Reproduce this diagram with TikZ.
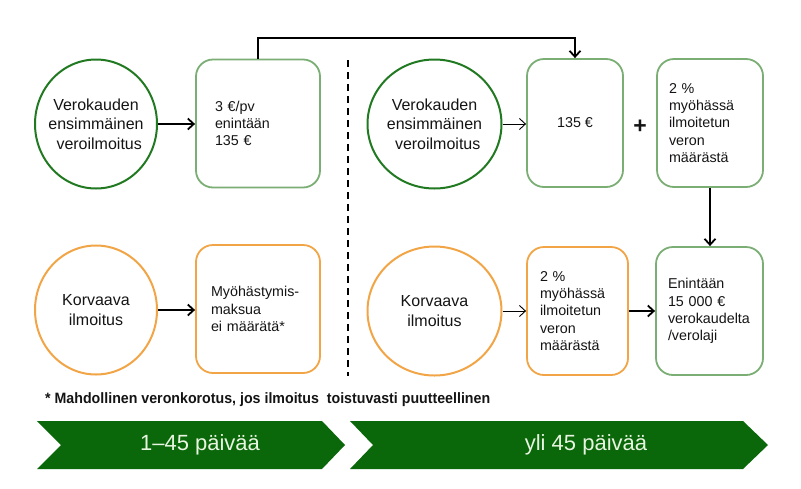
\documentclass[tikz,border=0pt]{standalone}
\usepackage{fontspec}
\usepackage{graphicx}
\setmainfont{Liberation Sans}
\usetikzlibrary{arrows.meta,shapes.geometric}
\definecolor{dkgreen}{HTML}{217A21}
\definecolor{ltgreen}{HTML}{7BAE74}
\definecolor{orng}{HTML}{F2A546}
\definecolor{chev}{HTML}{0A670A}
\definecolor{chevtxt}{HTML}{E8F5E0}
\definecolor{txt}{HTML}{141414}
\begin{document}
\begin{tikzpicture}[x=1pt,y=-1pt,
  circ/.style={ellipse, draw, line width=2pt, inner sep=0pt},
  circtxt/.style={font=\fontsize{16}{19.5}\selectfont, align=center, text=txt, inner sep=0pt},
  box/.style={draw, line width=1.8pt, rounded corners=17pt, font=\fontsize{14.3}{17.3}\selectfont, text=txt, minimum height=128pt},
  thickarr/.style={line width=1.8pt, -{Straight Barb[length=6pt,width=11pt]}},
  thinarr/.style={line width=0.9pt, -{Straight Barb[length=6pt,width=11pt]}},
  chevshape/.style={fill=chev, draw=none},
  chevlabel/.style={font=\fontsize{22}{22}\selectfont, text=chevtxt}
]
\useasboundingbox (0,0) rectangle (801,488);

% top row
\node[circ, draw=dkgreen, minimum width=122pt, minimum height=129pt] (c1) at (96,124) {};
\node[circtxt] (c1t) at (c1) {Verokauden\\ensimmäinen\\\hspace*{0.4em}veroilmoitus};
\node[box, draw=ltgreen, text width=86pt, inner xsep=19pt, align=left] (b1) at (258,123.5) {3 €/pv\\enintään\\135 €};

\node[circ, draw=dkgreen, minimum width=134pt, minimum height=129pt] (c2) at (434.5,124) {};
\node[circtxt] (c2t) at (c2) {Verokauden\\ensimmäinen\\\hspace*{0.4em}veroilmoitus};
\node[box, draw=ltgreen, minimum width=96pt, align=center] (b2) at (575,123) {135 €};
\node[font=\fontsize{23}{23}\bfseries, text=txt] (plus) at (640,127) {+};
\node[box, draw=ltgreen, text width=82pt, inner xsep=12pt, align=left] (b3) at (710,123) {2 \%\\myöhässä\\ilmoitetun\\veron\\määrästä};

% bottom row
\node[circ, draw=orng, minimum width=122pt, minimum height=129pt] (c3) at (96,310) {};
\node[circtxt] (c3t) at (c3) {Korvaava\\ilmoitus};
\node[box, draw=orng, text width=94pt, inner xsep=15pt, align=left] (b4) at (258,309) {Myöhästymis-\\maksua\\ei määrätä*};

\node[circ, draw=orng, minimum width=134pt, minimum height=129pt] (c4) at (434.5,311) {};
\node[circtxt] (c4t) at (c4) {Korvaava\\ilmoitus};
\node[box, draw=orng, text width=75pt, inner xsep=13pt, align=left] (b6) at (577.5,311) {2 \%\\myöhässä\\ilmoitetun\\veron\\määrästä};
\node[box, draw=ltgreen, text width=83pt, inner xsep=12pt, align=left] (b5) at (709.5,311) {Enintään\\15 000 €\\verokaudelta\\/verolaji};

% connectors
\draw[thickarr] (c1.east) -- (c1.east -| b1.west);
\draw[thinarr] (c2.east) -- (c2.east -| b2.west);
\draw[thickarr] (c3.east) -- (c3.east -| b4.west);
\draw[thinarr] (c4.east) -- (c4.east -| b6.west);
\draw[thickarr] (b6.east) -- (b5.west);
\draw[thickarr] (b3.south) -- (b3.south |- b5.north);
\draw[thickarr] (b1.north) -- ++(0,-21) -| (b2.north);

% dashed divider
\coordinate (d1) at (348,60);
\coordinate (d2) at (348,376);
\draw[line width=2pt, dash pattern=on 7pt off 5pt] (d1) -- (d2);

% footnote
\node[anchor=base west, inner sep=0pt, font=\fontsize{15}{17}\bfseries, text=txt] (fn) at (45,403.5)
  {\resizebox{445pt}{\height}{* Mahdollinen veronkorotus, jos ilmoitus~ toistuvasti puutteellinen}};

% chevrons
\path[chevshape] (37,421) -- (322,421) -- (345,445) -- (322,469) -- (37,469) -- (61,445) -- cycle;
\path[chevshape] (350,421) -- (743,421) -- (768,445) -- (743,469) -- (350,469) -- (373,445) -- cycle;
\node[chevlabel] (t1) at (200,445) {1–45 päivää};
\node[chevlabel] (t2) at (586,445) {yli 45 päivää};
\end{tikzpicture}
\end{document}
